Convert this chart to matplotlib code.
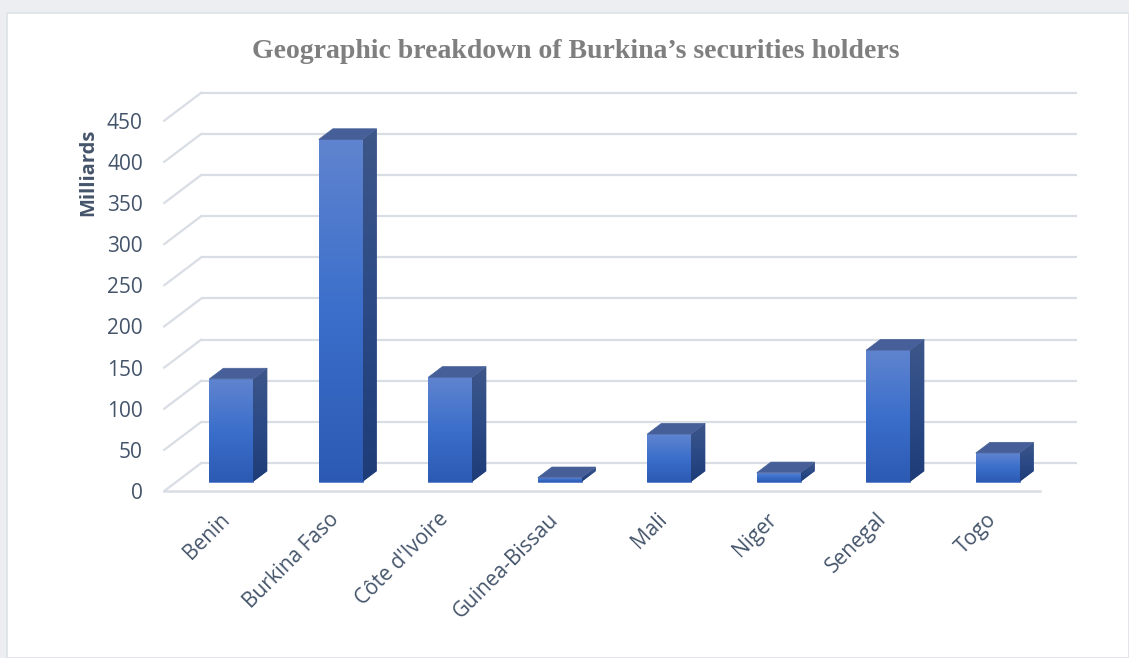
import numpy as np
import matplotlib
matplotlib.use('Agg')
from matplotlib import pyplot as plt
from matplotlib.patches import Polygon, Rectangle
from matplotlib.colors import LinearSegmentedColormap

# data (Milliards)
countries = ['Benin', 'Burkina Faso', "Côte d'Ivoire", 'Guinea-Bissau',
             'Mali', 'Niger', 'Senegal', 'Togo']
holdings = [125, 416, 127, 5, 58, 11, 160, 35]
yticks = [0, 50, 100, 150, 200, 250, 300, 350, 400, 450]

title = 'Geographic breakdown of Burkina\u2019s securities holders'
ylabel = 'Milliards'

# pseudo-3d geometry (data units)
DX, DY = 0.338, 34.0        # depth of the back wall
F0 = 0.33                   # depth where the bar front faces sit
FB = 0.38                   # bar thickness (fraction of depth)
BW = 0.40                   # bar width
grid_c = '#d9dde4'
txt_c = '#44546a'

W, H = 1129, 658
fig = plt.figure(figsize=(W / 100, H / 100), dpi=100)
fig.patch.set_facecolor('#eceef1')
fig.patches.append(Rectangle((7 / W, 0), 1 - 7 / W, 1 - 13 / H, transform=fig.transFigure,
                             facecolor='white', edgecolor='#dde2e8', lw=1.2, zorder=-10))

# pixel mapping: x_px = 219 + 109.5*c, y_px(top) = 491 - 0.823*v
xl, xr = -0.62, 8.0
yb, yt = -20, 520
lpx, rpx = 219 + 109.5 * xl, 219 + 109.5 * xr
bpx, tpx = 491 - 0.823 * yb, 491 - 0.823 * yt
ax = fig.add_axes([lpx / W, 1 - bpx / H, (rpx - lpx) / W, (bpx - tpx) / H])
ax.set_facecolor('none')

# grid: back wall lines, side wall diagonals, floor front edge
for v in yticks:
    ax.plot([-0.5 + DX, 7.5 + DX], [v + DY, v + DY], color=grid_c, lw=1.6, zorder=1,
            solid_capstyle='butt')
    ax.plot([-0.5, -0.5 + DX], [v, v + DY], color=grid_c, lw=1.6, zorder=1)
ax.plot([-0.5, 7.5], [0, 0], color=grid_c, lw=1.8, zorder=1)

front_cm = LinearSegmentedColormap.from_list('f', ['#2c5ab3', '#3b6fcb', '#6084cf'])
side_cm = LinearSegmentedColormap.from_list('s', ['#1e3c77', '#2b4a86', '#3e5789'])
grad = np.linspace(0, 1, 256).reshape(-1, 1)

pos = np.arange(len(countries))
x = pos + F0 * DX
base = F0 * DY
ddx, ddy = FB * DX, FB * DY
bars = ax.bar(x, holdings, width=BW, bottom=base, color='#3b6fcb', zorder=3,
              edgecolor='#5a7fcc', lw=0.6)
for b, h in zip(bars, holdings):
    x0 = b.get_x()
    x1 = x0 + BW
    top = base + h
    im = ax.imshow(grad, extent=[x0, x1, base, top], origin='lower', aspect='auto',
                   cmap=front_cm, zorder=3.5)
    im.set_clip_path(b)
    side = Polygon([(x1, base), (x1, top), (x1 + ddx, top + ddy), (x1 + ddx, base + ddy)],
                   closed=True, facecolor='#2b4a86', edgecolor='none', zorder=3)
    ax.add_patch(side)
    ims = ax.imshow(grad, extent=[x1, x1 + ddx, base, top + ddy], origin='lower',
                    aspect='auto', cmap=side_cm, zorder=3.2)
    ims.set_clip_path(side)
    ax.add_patch(Polygon([(x0, top), (x1, top), (x1 + ddx, top + ddy), (x0 + ddx, top + ddy)],
                         closed=True, facecolor='#475f98', edgecolor='#4a639b', lw=0.5, zorder=4))

ax.set_xlim(xl, xr)
ax.set_ylim(yb, yt)
for s in ax.spines.values():
    s.set_visible(False)

ax.set_yticks(yticks)
ax.set_yticklabels([str(v) for v in yticks], fontsize=15, color=txt_c, family='Open Sans')
ax.tick_params(axis='y', length=0, pad=6)
ax.set_xticks(pos)
ax.set_xticklabels(countries, rotation=45, ha='right', rotation_mode='anchor',
                   fontsize=15, color=txt_c, family='Open Sans')
ax.tick_params(axis='x', length=0, pad=1)

fig.text(88 / W, 1 - 172 / H, ylabel, rotation=90, ha='center', va='center',
         fontsize=14.5, fontweight='bold', color=txt_c, family='Open Sans')
fig.text(576 / W, 1 - 52 / H, title, ha='center', va='center', fontsize=20,
         fontweight='bold', color='#7f7f7f', family='Liberation Serif')

fig.savefig('out.png', dpi=100, facecolor=fig.get_facecolor())
